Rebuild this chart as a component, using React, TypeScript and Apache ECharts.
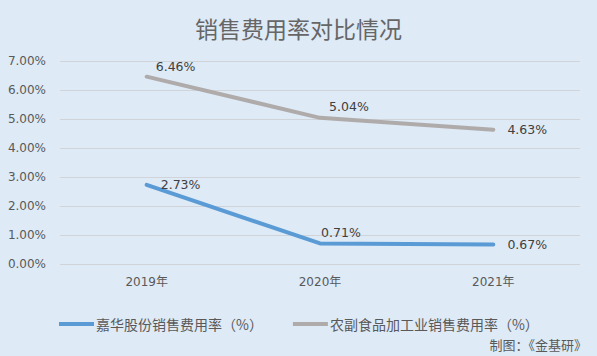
import React, { useEffect, useRef } from "react";
import * as echarts from "echarts";

const categories = ["2019年", "2020年", "2021年"];
const jiahua = [2.73, 0.71, 0.67];
const industry = [6.46, 5.04, 4.63];
const seriesNames = ["嘉华股份销售费用率（%）", "农副食品加工业销售费用率（%）"];
const yTicks = { min: 0, max: 7, interval: 1 };

export default function App() {
  const ref = useRef<HTMLDivElement>(null);
  useEffect(() => {
    const chart = echarts.init(ref.current!, null, { renderer: "svg" });
    const font = "'DejaVu Sans', 'Noto Sans CJK SC', sans-serif";
    const cjk = "'Noto Sans CJK SC', sans-serif";
    const baseLabel = {
      show: true,
      position: "right",
      distance: 5,
      formatter: (p: any) => Number(p.value).toFixed(2) + "%",
      color: "#404040",
      fontSize: 12.5,
      fontFamily: font,
    };
    const off = (dx: number, dy: number) => ({ offset: [dx, dy] });
    chart.setOption({
      animation: false,
      backgroundColor: "#DEEAF6",
      textStyle: { fontFamily: font },
      title: {
        text: "销售费用率对比情况",
        left: "center",
        top: 11,
        textStyle: { fontSize: 23, fontWeight: "normal", color: "#666666", fontFamily: cjk },
      },
      grid: { left: 60, right: 17, top: 61, bottom: 92 },
      xAxis: {
        type: "category",
        data: categories,
        boundaryGap: true,
        axisLine: { show: false },
        axisTick: { show: false },
        axisLabel: { color: "#595959", fontSize: 12, margin: 12, fontFamily: font },
      },
      yAxis: {
        type: "value",
        min: yTicks.min,
        max: yTicks.max,
        interval: yTicks.interval,
        axisLine: { show: false },
        axisTick: { show: false },
        splitLine: { lineStyle: { color: "#D0D4D9", width: 1 } },
        axisLabel: {
          color: "#595959",
          fontSize: 12,
          margin: 14,
          fontFamily: font,
          formatter: (v: number) => v.toFixed(2) + "%",
        },
      },
      legend: {
        left: 54,
        top: 312,
        itemWidth: 35,
        itemHeight: 4,
        itemGap: 30,
        icon: "rect",
        textStyle: { color: "#595959", fontSize: 14, fontFamily: cjk, padding: [0, 0, 0, -3] },
        data: seriesNames,
      },
      graphic: [
        {
          type: "text",
          right: 10,
          top: 338,
          style: { text: "制图：《金基研》", fill: "#595959", fontSize: 13, fontFamily: cjk },
        },
      ],
      series: [
        {
          name: seriesNames[0],
          type: "line",
          data: jiahua.map((v, i) => ({
            value: v,
            label: i === 1 ? off(-4, -11) : off(9, 0),
          })),
          symbol: "circle",
          symbolSize: 0.1,
          showSymbol: true,
          label: baseLabel,
          lineStyle: { color: "#5B9BD5", width: 4, cap: "round" },
          itemStyle: { color: "#5B9BD5" },
        },
        {
          name: seriesNames[1],
          type: "line",
          data: industry.map((v, i) => ({
            value: v,
            label: i === 0 ? off(4, -10) : i === 1 ? off(4, -11) : off(9, 0),
          })),
          symbol: "circle",
          symbolSize: 0.1,
          showSymbol: true,
          label: baseLabel,
          lineStyle: { color: "#B0ABAB", width: 4, cap: "round" },
          itemStyle: { color: "#B0ABAB" },
        },
      ],
    });
    return () => chart.dispose();
  }, []);
  return <div ref={ref} style={{ width: 597, height: 356, position: "absolute", left: 0, top: 0 }} />;
}
